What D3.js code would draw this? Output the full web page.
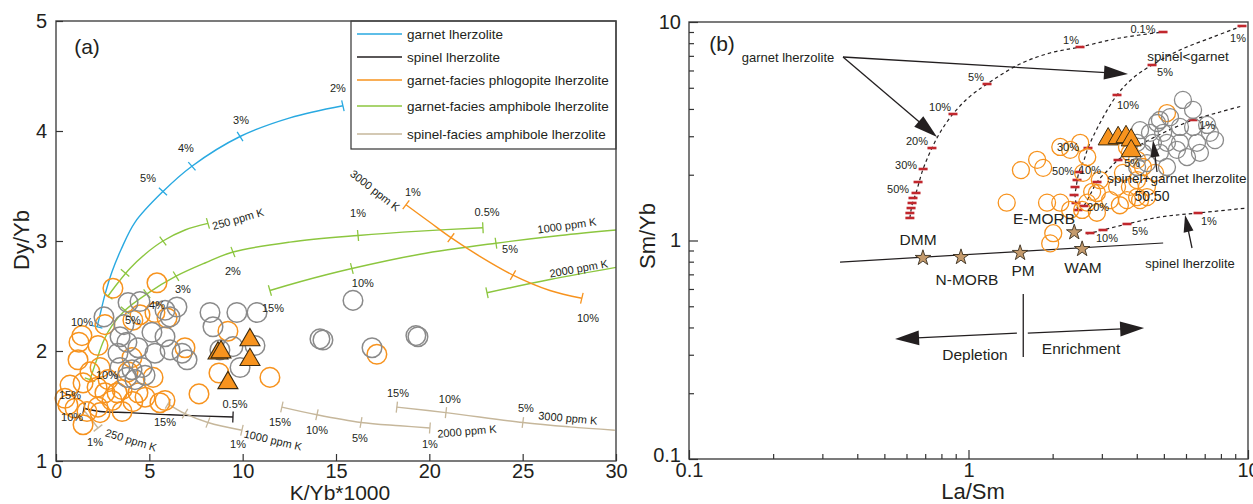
<!DOCTYPE html>
<html>
<head>
<meta charset="utf-8">
<script src="https://cdn.jsdelivr.net/npm/d3@7"></script>
<style>
  body { margin: 0; background: #fff; }
  svg { display: block; font-family: Arial, "Liberation Sans", Helvetica, sans-serif; }
</style>
</head>
<body>
<svg id="chart" width="1253" height="504"></svg>
<script>
// ---------- Panel (a) data: K/Yb*1000 vs Dy/Yb ----------
const garnetLherz = [[2.20,2.22],[2.36,2.33],[2.62,2.51],[3.00,2.72],[3.48,2.92],[4.23,3.17],[5.73,3.45],[7.28,3.68],[9.86,3.95],[12.53,4.12],[15.37,4.23]];
const garnetLherzTicks = [[2.20,2.22],[5.73,3.45],[7.28,3.68],[9.86,3.95],[15.37,4.23]];

const amph250 = [[2.79,2.50],[3.32,2.62],[3.96,2.75],[4.77,2.88],[5.73,3.00],[6.91,3.10],[8.14,3.16]];
const amph250Ticks = [[2.79,2.50],[3.70,2.71],[5.73,3.00],[8.14,3.16]];
const amph500 = [[1.82,1.74],[2.14,1.90],[2.57,2.10],[3.00,2.23],[3.70,2.37],[4.87,2.52],[6.43,2.68],[7.98,2.80],[9.48,2.90],[12.53,2.99],[16.18,3.05],[19.50,3.09],[22.87,3.12]];
const amph500Ticks = [[1.82,1.74],[3.70,2.37],[4.87,2.52],[6.43,2.68],[9.48,2.90],[16.18,3.05],[22.87,3.12]];
const amph1000 = [[11.46,2.55],[13.07,2.63],[15.85,2.75],[19.50,2.88],[23.57,2.98],[27.0,3.05],[30.0,3.10]];
const amph1000Ticks = [[11.46,2.55],[15.85,2.75],[23.57,2.98]];
const amph2000 = [[23.09,2.53],[26.46,2.65],[30.0,2.76]];
const amph2000Ticks = [[23.09,2.53]];

const phlog3000 = [[18.75,3.33],[20.03,3.17],[21.16,3.03],[22.71,2.86],[24.48,2.69],[26.46,2.55],[28.17,2.48]];
const phlog3000Ticks = [[18.75,3.33],[21.16,3.03],[24.48,2.69],[28.17,2.48]];

const spinelLherz = [[1.50,1.48],[2.36,1.45],[3.96,1.44],[6.11,1.42],[9.48,1.40]];
const spinelLherzTicks = [[1.50,1.48],[9.48,1.40]];

const spAmph250 = [[1.55,1.45],[1.93,1.37],[2.25,1.30]];
const spAmph250Ticks = [[2.25,1.30]];
const spAmph1000 = [[6.00,1.52],[6.91,1.43],[8.14,1.35],[9.96,1.28]];
const spAmph1000Ticks = [[6.00,1.52],[6.91,1.43],[8.14,1.35],[9.96,1.28]];
const spAmph2000 = [[12.1,1.49],[13.98,1.42],[16.34,1.35],[18.43,1.32],[20.03,1.30]];
const spAmph2000Ticks = [[12.1,1.49],[13.98,1.42],[16.34,1.35],[20.03,1.30]];
const spAmph3000 = [[18.26,1.49],[20.89,1.44],[25.01,1.35],[27.53,1.31],[29.94,1.28]];
const spAmph3000Ticks = [[18.26,1.49],[20.89,1.44],[25.01,1.35]];

const orangeA = [[3.05,2.57],[5.41,2.62],[2.62,2.24],[1.39,2.14],[1.23,2.08],[1.18,1.92],[2.25,2.05],[4.12,2.28],[4.50,2.33],[5.95,2.30],
  [6.91,2.03],[1.45,1.71],[2.20,1.67],[2.62,1.62],[0.48,1.57],[0.64,1.51],[1.02,1.48],[1.66,1.45],[2.25,1.49],[3.00,1.55],
  [3.54,1.65],[4.12,1.54],[3.54,1.45],[4.77,1.58],[2.79,1.74],[4.39,1.62],[5.84,1.55],[4.07,1.94],[5.30,2.35],[1.45,1.33],
  [2.36,1.44],[5.57,1.53],[9.21,2.18],[8.73,1.80],[7.66,1.61],[11.46,1.76],[17.19,1.97],[5.20,1.76],[3.27,1.62],[1.82,1.81],
  [2.36,1.85],[0.75,1.69],[3.86,1.81]];
const grayA = [[2.57,2.31],[3.86,2.44],[4.50,2.45],[5.84,2.37],[6.48,2.40],[6.11,2.31],[3.43,2.13],[3.80,2.08],[4.39,2.03],[5.14,2.17],
  [5.84,2.13],[6.11,2.01],[6.75,1.98],[3.32,1.98],[3.43,1.85],[4.07,1.83],[4.61,1.85],[3.80,1.76],[4.23,1.74],[4.77,1.78],
  [5.30,1.98],[7.02,1.92],[3.64,2.24],[8.25,2.35],[8.41,2.22],[9.69,2.35],[10.77,2.35],[8.78,2.01],[9.48,2.04],[10.66,2.05],
  [9.86,1.85],[15.91,2.46],[14.14,2.11],[14.30,2.10],[16.93,2.03],[19.28,2.14],[19.39,2.13]];
const triA = [[8.68,1.98],[8.84,1.99],[10.39,2.10],[10.39,1.92],[9.21,1.71]];

// text, K/Yb, Dy/Yb, rotation
const labelsA = [
  ["5%",4.93,3.57,0],["4%",6.96,3.84,0],["3%",9.91,4.10,0],["2%",15.10,4.39,0],["10%",1.39,2.26,0],
  ["250 ppm K",9.75,3.20,-16],
  ["10%",2.73,1.78,0],["5%",4.12,2.28,0],["4%",5.41,2.42,0],["3%",6.80,2.56,0],["2%",9.48,2.73,0],["1%",16.18,3.25,0],["0.5%",23.09,3.26,0],
  ["15%",11.62,2.39,0],["10%",16.44,2.62,0],["5%",24.32,2.93,0],["1000 ppm K",27.37,3.14,-8],
  ["2000 ppm K",28.0,2.75,-10],
  ["1%",19.12,3.44,0],["10%",28.50,2.30,0],["3000 ppm K",17.09,3.46,38],
  ["15%",0.75,1.60,0],["10%",0.86,1.40,0],["0.5%",9.59,1.52,0],
  ["1%",2.09,1.17,0],["250 ppm K",4.02,1.19,17],
  ["15%",5.84,1.35,0],["1%",9.75,1.15,0],["1000 ppm K",11.62,1.19,13],
  ["15%",12.00,1.35,0],["10%",13.98,1.28,0],["5%",16.28,1.21,0],["1%",20.03,1.15,0],["2000 ppm K",22.01,1.27,-5],
  ["15%",18.32,1.62,0],["10%",21.10,1.56,0],["5%",25.17,1.48,0],["3000 ppm K",27.42,1.39,5]
];

const legendNames = ["garnet lherzolite","spinel lherzolite","garnet-facies phlogopite lherzolite","garnet-facies amphibole lherzolite","spinel-facies amphibole lherzolite"];

// ---------- Panel (b) data: La/Sm vs Sm/Yb ----------
const garnetMelt = [[0.617,1.268],[0.628,1.454],[0.649,1.650],[0.688,2.124],[0.740,2.650],[0.797,3.171],[0.880,3.793],[0.996,4.489],[1.165,5.203],[1.528,6.425],[1.957,7.214],[2.506,7.683],[3.483,8.450],[4.966,8.999]];
const garnetMeltTicks = [[4.966,8.999],[2.506,7.683],[1.165,5.203],[0.880,3.793],[0.740,2.650],[0.688,2.124],[0.660,1.852],[0.649,1.650],[0.633,1.565],[0.628,1.485],[0.623,1.408],[0.617,1.336],[0.617,1.268]];
const spGtMelt = [[2.465,1.379],[2.425,1.485],[2.405,1.615],[2.425,1.739],[2.485,2.058],[2.590,2.335],[2.676,2.650],[2.954,3.450],[3.399,4.634],[3.878,5.541],[4.536,6.357],[5.711,7.445],[7.496,8.540],[9.517,9.588]];
const spGtMeltTicks = [[9.517,9.588],[4.536,6.357],[3.399,4.634],[2.676,2.650],[2.485,2.058],[2.445,1.892],[2.405,1.757],[2.386,1.615],[2.425,1.485],[2.465,1.379]];
const mixMelt = [[2.590,1.439],[2.721,1.615],[2.883,1.852],[3.156,2.101],[3.427,2.335],[4.108,2.736],[5.047,3.137],[6.357,3.561],[7.941,3.873],[9.517,4.126]];
const mixMeltTicks = [[2.590,1.439],[2.883,1.852],[3.427,2.335],[6.357,3.561]];
const spinelMelt = [[2.655,1.071],[3.028,1.117],[3.690,1.190],[4.844,1.281],[6.625,1.336],[9.918,1.408]];
const spinelMeltTicks = [[2.72,1.082],[3.028,1.117],[3.690,1.190],[6.625,1.336]];

const mantleLine = [[0.347,0.797],[4.97,0.974]];
const starNames = ["DMM","N-MORB","PM","WAM","E-MORB"];
const starLaSm = [0.687,0.94,1.53,2.55,2.39];
const starSmYb = [0.832,0.84,0.877,0.914,1.09];

const orangeB = [[1.37,1.49],[1.54,2.10],[1.76,2.34],[1.85,2.15],[1.91,1.49],[2.01,1.08],[1.96,0.97],[2.13,2.68],[2.13,1.49],[2.31,2.60],
  [2.31,1.38],[2.51,2.80],[2.66,2.41],[2.57,2.04],[2.95,1.89],[2.88,1.65],[2.66,1.49],[2.55,1.38],[2.88,1.34],[3.69,2.68],
  [3.78,2.52],[4.01,2.34],[3.57,2.04],[3.40,1.76],[3.78,1.76],[4.01,1.58],[3.69,1.53],[4.35,1.76],[4.35,1.58],[4.01,1.89],
  [4.65,2.04],[5.13,3.83],[4.21,2.17],[2.77,1.67],[4.11,1.53],[3.21,1.53],[3.48,1.45]];
const grayB = [[5.85,4.40],[6.36,3.96],[5.26,3.67],[4.73,3.45],[4.11,3.20],[4.46,3.11],[4.97,3.11],[5.71,3.31],[6.36,3.31],[7.14,3.38],
  [7.31,3.11],[6.57,2.80],[5.71,2.80],[5.13,2.80],[4.57,2.80],[4.01,2.80],[4.21,2.52],[4.84,2.52],[5.57,2.60],[6.05,2.41],
  [6.73,2.52],[4.35,2.26],[4.01,2.17],[5.13,2.17],[4.84,3.56],[7.62,2.88]];
const triB = [[3.16,2.91],[3.43,2.95],[3.66,2.98],[3.82,2.88],[3.82,2.57]];

// text, La/Sm, Sm/Yb, font size
const labelsB = [
  ["0.1%",4.21,9.29,11],["1%",2.327,8.27,11],["5%",1.064,5.60,11],["10%",0.791,4.08,11],["20%",0.654,2.854,11],["30%",0.598,2.216,11],["50%",0.560,1.721,11],
  ["1%",9.21,8.45,11],["5%",5.05,5.90,11],["10%",3.72,4.17,11],["30%",2.27,2.68,11],["50%",2.18,2.08,11],
  ["20%",2.907,1.42,11],["10%",2.72,2.10,11],["5%",3.85,2.26,11],["1%",7.14,3.38,11],
  ["10%",3.13,1.03,11],["5%",4.11,1.105,11],["1%",7.25,1.23,11],
  ["garnet lherzolite",0.226,6.917,13],["spinel<garnet",6.10,6.99,13.5],["spinel+garnet lherzolite",5.57,1.93,13.5],
  ["50:50",4.535,1.598,14],["spinel lherzolite",6.20,0.789,13],
  ["DMM",0.660,1.005,15.5],["N-MORB",0.988,0.659,15.5],["PM",1.567,0.725,15.5],["WAM",2.569,0.748,15.5],["E-MORB",1.863,1.254,15.5],
  ["Depletion",1.055,0.302,15.5],["Enrichment",2.527,0.319,15.5]
];
// from, to, head length, head half-width
const arrowsB = [
  [[0.3556,6.917],[0.7717,2.976],24,7],
  [[0.3556,6.917],[3.721,5.781],24,7],
  [[4.726,2.058],[4.572,2.884],17,4.5],
  [[6.305,0.924],[5.953,1.308],17,5],
  [[1.49,0.377],[0.546,0.354],24,7.5],
  [[1.63,0.377],[4.25,0.398],24,7.5]
];
const dividerLaSm = 1.57, dividerSmYb = [0.293, 0.569];

// ---------- styles ----------
const C = {
  blue: "#29a9e1", black: "#231f20", orange: "#f7931e", green: "#8cc63f",
  tan: "#c6b79b", gray: "#8a8a8a", red: "#c1272d", star: "#c49a6c"
};
const svg = d3.select("#chart");

function smooth(x, y) {
  return d3.line().x(d => x(d[0])).y(d => y(d[1])).curve(d3.curveCatmullRom.alpha(0.5));
}

// short marks perpendicular to the curve, found from the nearest segment
function crossTicks(g, pts, ticks, x, y, color, len) {
  const P = pts.map(d => [x(d[0]), y(d[1])]);
  ticks.forEach(t => {
    const q = [x(t[0]), y(t[1])];
    let best = Infinity, dir = [1, 0];
    for (let i = 0; i < P.length - 1; i++) {
      const a = P[i], b = P[i + 1];
      const vx = b[0] - a[0], vy = b[1] - a[1];
      const L2 = vx * vx + vy * vy || 1;
      let s = ((q[0] - a[0]) * vx + (q[1] - a[1]) * vy) / L2;
      s = Math.max(0, Math.min(1, s));
      const dx = a[0] + s * vx - q[0], dy = a[1] + s * vy - q[1];
      const dd = dx * dx + dy * dy;
      if (dd < best) { best = dd; const L = Math.sqrt(L2); dir = [vx / L, vy / L]; }
    }
    const n = [-dir[1], dir[0]];
    g.append("line")
      .attr("x1", q[0] - n[0] * len / 2).attr("y1", q[1] - n[1] * len / 2)
      .attr("x2", q[0] + n[0] * len / 2).attr("y2", q[1] + n[1] * len / 2)
      .attr("stroke", color).attr("stroke-width", 1.3);
  });
}

function triPath(cx, cy, s) {
  const h = s * 0.866;
  return `M${cx},${cy - h * 2 / 3}L${cx + s / 2},${cy + h / 3}L${cx - s / 2},${cy + h / 3}Z`;
}

function arrow(g, p0, p1, len, hw) {
  const dx = p1[0] - p0[0], dy = p1[1] - p0[1], L = Math.hypot(dx, dy);
  const ux = dx / L, uy = dy / L;
  const bx = p1[0] - ux * len, by = p1[1] - uy * len;
  g.append("line").attr("x1", p0[0]).attr("y1", p0[1]).attr("x2", bx + ux * 2).attr("y2", by + uy * 2)
    .attr("stroke", "#231f20").attr("stroke-width", 1.3);
  g.append("path")
    .attr("d", `M${p1[0]},${p1[1]}L${bx - uy * hw},${by + ux * hw}L${bx + uy * hw},${by - ux * hw}Z`)
    .attr("fill", "#231f20");
}

function styleAxis(ax, size) {
  ax.select(".domain").remove();
  ax.selectAll(".tick line").attr("stroke", "#333").attr("stroke-width", 1.2);
  ax.selectAll("text").attr("font-size", size).attr("fill", "#231f20")
    .attr("font-family", 'Arial, "Liberation Sans", sans-serif');
}

// =================== Panel (a) ===================
const xA = d3.scaleLinear().domain([0, 30]).range([56, 616]);
const yA = d3.scaleLinear().domain([1, 5]).range([461, 21]);
const gA = svg.append("g");

const curvesA = [
  [garnetLherz, garnetLherzTicks, C.blue],
  [amph250, amph250Ticks, C.green],
  [amph500, amph500Ticks, C.green],
  [amph1000, amph1000Ticks, C.green],
  [amph2000, amph2000Ticks, C.green],
  [phlog3000, phlog3000Ticks, C.orange],
  [spinelLherz, spinelLherzTicks, C.black],
  [spAmph250, spAmph250Ticks, C.tan],
  [spAmph1000, spAmph1000Ticks, C.tan],
  [spAmph2000, spAmph2000Ticks, C.tan],
  [spAmph3000, spAmph3000Ticks, C.tan]
];
curvesA.forEach(([pts, ticks, col]) => {
  gA.append("path").attr("d", smooth(xA, yA)(pts)).attr("fill", "none")
    .attr("stroke", col).attr("stroke-width", 1.4);
  crossTicks(gA, pts, ticks, xA, yA, col, 11);
});

gA.selectAll("circle.o").data(orangeA).join("circle")
  .attr("cx", d => xA(d[0])).attr("cy", d => yA(d[1])).attr("r", 9.8)
  .attr("fill", "none").attr("stroke", C.orange).attr("stroke-width", 1.5);
gA.selectAll("circle.g").data(grayA).join("circle")
  .attr("cx", d => xA(d[0])).attr("cy", d => yA(d[1])).attr("r", 9.8)
  .attr("fill", "none").attr("stroke", C.gray).attr("stroke-width", 1.5);
gA.selectAll("path.tri").data(triA).join("path")
  .attr("d", d => triPath(xA(d[0]), yA(d[1]), 20))
  .attr("fill", C.orange).attr("stroke", "#3a2a10").attr("stroke-width", 1.1);

labelsA.forEach(([t, kx, dy, rot]) => {
  const px = xA(kx), py = yA(dy);
  gA.append("text").attr("transform", `translate(${px},${py}) rotate(${rot})`)
    .attr("text-anchor", "middle").attr("dy", "0.35em")
    .attr("font-size", 11).attr("fill", "#231f20").text(t);
});

// legend
const legColors = [C.blue, C.black, C.orange, C.green, C.tan];
const legY = [34, 57, 80, 106, 134];
const leg = gA.append("g");
leg.append("rect").attr("x", 351).attr("y", 21).attr("width", 265).attr("height", 128)
  .attr("fill", "#fff").attr("stroke", "#333").attr("stroke-width", 1.2);
legendNames.forEach((nm, i) => {
  leg.append("line").attr("x1", 357).attr("x2", 402).attr("y1", legY[i]).attr("y2", legY[i])
    .attr("stroke", legColors[i]).attr("stroke-width", 1.4);
  leg.append("text").attr("x", 407).attr("y", legY[i]).attr("dy", "0.35em")
    .attr("font-size", 13.5).attr("fill", "#231f20").text(nm);
});

gA.append("rect").attr("x", 56).attr("y", 21).attr("width", 560).attr("height", 440)
  .attr("fill", "none").attr("stroke", "#444").attr("stroke-width", 1.4);
styleAxis(gA.append("g").attr("transform", "translate(0,461)")
  .call(d3.axisBottom(xA).tickValues([0, 5, 10, 15, 20, 25, 30]).tickSize(-7).tickPadding(3).tickFormat(d3.format("d"))), 20);
styleAxis(gA.append("g").attr("transform", "translate(56,0)")
  .call(d3.axisLeft(yA).tickValues([1, 2, 3, 4, 5]).tickSize(-7).tickPadding(9).tickFormat(d3.format("d"))), 20);
gA.append("text").attr("x", 340).attr("y", 500).attr("text-anchor", "middle")
  .attr("font-size", 21).attr("fill", "#231f20").text("K/Yb*1000");
gA.append("text").attr("transform", "translate(29,240) rotate(-90)").attr("text-anchor", "middle")
  .attr("font-size", 22).attr("fill", "#231f20").text("Dy/Yb");
gA.append("text").attr("x", 87).attr("y", 47).attr("dy", "0.35em").attr("text-anchor", "middle")
  .attr("font-size", 21).attr("fill", "#231f20").text("(a)");

// =================== Panel (b) ===================
const xB = d3.scaleLog().domain([0.1, 10]).range([689, 1248]);
const yB = d3.scaleLog().domain([0.1, 10]).range([459, 22]);
const gB = svg.append("g");

[[garnetMelt, garnetMeltTicks], [spGtMelt, spGtMeltTicks], [mixMelt, mixMeltTicks], [spinelMelt, spinelMeltTicks]]
  .forEach(([pts, ticks]) => {
    gB.append("path").attr("d", smooth(xB, yB)(pts)).attr("fill", "none")
      .attr("stroke", "#231f20").attr("stroke-width", 1.2).attr("stroke-dasharray", "3.5,3");
    gB.selectAll(null).data(ticks).join("rect")
      .attr("x", d => xB(d[0]) - 4.5).attr("y", d => yB(d[1]) - 1.3)
      .attr("width", 9).attr("height", 2.6).attr("fill", C.red);
  });

gB.append("path").attr("d", d3.line().x(d => xB(d[0])).y(d => yB(d[1]))(mantleLine))
  .attr("stroke", "#231f20").attr("stroke-width", 1.2).attr("fill", "none");

gB.selectAll("circle.o").data(orangeB).join("circle")
  .attr("cx", d => xB(d[0])).attr("cy", d => yB(d[1])).attr("r", 8.5)
  .attr("fill", "none").attr("stroke", C.orange).attr("stroke-width", 1.3);
gB.selectAll("circle.g").data(grayB).join("circle")
  .attr("cx", d => xB(d[0])).attr("cy", d => yB(d[1])).attr("r", 8.5)
  .attr("fill", "none").attr("stroke", C.gray).attr("stroke-width", 1.3);
gB.selectAll("path.tri").data(triB).join("path")
  .attr("d", d => triPath(xB(d[0]), yB(d[1]), 20))
  .attr("fill", C.orange).attr("stroke", "#3a2a10").attr("stroke-width", 1);

const starSym = d3.symbol().type(d3.symbolStar).size(75);
starNames.forEach((nm, i) => {
  gB.append("path").attr("d", starSym())
    .attr("transform", `translate(${xB(starLaSm[i])},${yB(starSmYb[i])})`)
    .attr("fill", C.star).attr("stroke", "#3a3020").attr("stroke-width", 0.9);
});

arrowsB.forEach(([a, b, len, hw]) => {
  arrow(gB, [xB(a[0]), yB(a[1])], [xB(b[0]), yB(b[1])], len, hw);
});
gB.append("line").attr("x1", xB(dividerLaSm)).attr("x2", xB(dividerLaSm))
  .attr("y1", yB(dividerSmYb[0])).attr("y2", yB(dividerSmYb[1]))
  .attr("stroke", "#231f20").attr("stroke-width", 1.3);

labelsB.forEach(([t, lx, ly, fs]) => {
  gB.append("text").attr("x", xB(lx)).attr("y", yB(ly)).attr("dy", "0.35em")
    .attr("text-anchor", "middle").attr("font-size", fs).attr("fill", "#231f20").text(t);
});

gB.append("rect").attr("x", 689).attr("y", 22).attr("width", 559).attr("height", 437)
  .attr("fill", "none").attr("stroke", "#444").attr("stroke-width", 1.4);

const majors = [0.1, 1, 10];
const minors = d3.range(2, 10).map(d => d / 10).concat(d3.range(2, 10));
styleAxis(gB.append("g").attr("transform", "translate(0,459)")
  .call(d3.axisBottom(xB).tickValues(minors).tickSize(-5).tickFormat("")), 20);
styleAxis(gB.append("g").attr("transform", "translate(0,459)")
  .call(d3.axisBottom(xB).tickValues(majors).tickSize(-9).tickPadding(4).tickFormat(d3.format("~g"))), 20);
styleAxis(gB.append("g").attr("transform", "translate(689,0)")
  .call(d3.axisLeft(yB).tickValues(minors).tickSize(-5).tickFormat("")), 20);
styleAxis(gB.append("g").attr("transform", "translate(689,0)")
  .call(d3.axisLeft(yB).tickValues(majors).tickSize(-9).tickPadding(8).tickFormat(d3.format("~g"))), 20);
// lift the lowest y label a little so it clears the x label at the corner
gB.selectAll("g.tick").filter(d => d === 0.1).select("text")
  .filter(function () { return this.getAttribute("x") !== null && +this.getAttribute("x") < 0; })
  .attr("dy", "0.1em");

gB.append("text").attr("x", 973).attr("y", 499).attr("text-anchor", "middle")
  .attr("font-size", 22).attr("fill", "#231f20").text("La/Sm");
gB.append("text").attr("transform", "translate(655,236) rotate(-90)").attr("text-anchor", "middle")
  .attr("font-size", 22).attr("fill", "#231f20").text("Sm/Yb");
gB.append("text").attr("x", 722).attr("y", 44).attr("dy", "0.35em").attr("text-anchor", "middle")
  .attr("font-size", 21).attr("fill", "#231f20").text("(b)");
</script>
</body>
</html>
